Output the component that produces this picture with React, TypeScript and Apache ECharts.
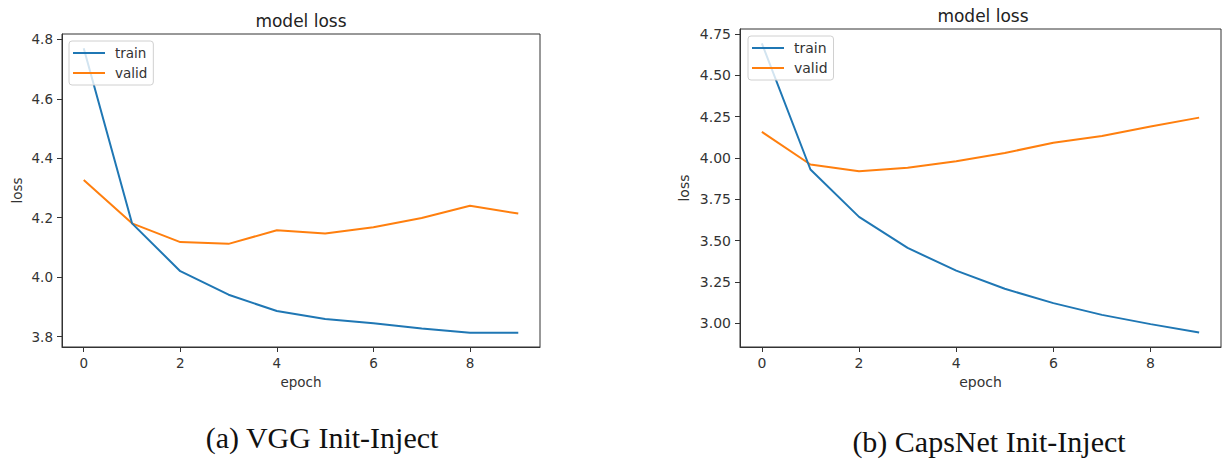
import React, { useEffect, useRef } from "react";
import * as echarts from "echarts";

const epochs = [0, 1, 2, 3, 4, 5, 6, 7, 8, 9];
const vggTrain = [4.77, 4.181, 4.02, 3.941, 3.886, 3.859, 3.845, 3.827, 3.813, 3.813];
const vggValid = [4.327, 4.181, 4.118, 4.112, 4.158, 4.147, 4.168, 4.199, 4.24, 4.214];
const capsTrain = [4.693, 3.93, 3.643, 3.455, 3.318, 3.208, 3.121, 3.05, 2.994, 2.943];
const capsValid = [4.158, 3.96, 3.92, 3.94, 3.98, 4.03, 4.092, 4.133, 4.19, 4.244];
const xTicks = [0, 2, 4, 6, 8];
const vggYTicks = [3.8, 4.0, 4.2, 4.4, 4.6, 4.8];
const capsYTicks = [3.0, 3.25, 3.5, 3.75, 4.0, 4.25, 4.5, 4.75];
const seriesNames = ["train", "valid"];
const titleText = "model loss";
const xName = "epoch";
const yName = "loss";
const captionA = "(a) VGG Init-Inject";
const captionB = "(b) CapsNet Init-Inject";

const BLUE = "#1f77b4";
const ORANGE = "#ff7f0e";
const INK = "#333333";
const FONT = "DejaVu Sans";

function limits(arrs: number[][]) {
  const all = arrs.flat();
  const mn = Math.min(...all);
  const mx = Math.max(...all);
  const m = (mx - mn) * 0.05;
  return [mn - m, mx + m];
}

function pairs(vals: number[]) {
  return vals.map((v, i) => [epochs[i], v]);
}

export default function App() {
  const ref = useRef<HTMLDivElement>(null);
  useEffect(() => {
    if (!ref.current) return;
    const chart = echarts.init(ref.current, null, { renderer: "svg" });
    const [aMin, aMax] = limits([vggTrain, vggValid]);
    const [bMin, bMax] = limits([capsTrain, capsValid]);
    const span = epochs[epochs.length - 1] - epochs[0];
    const xmin = epochs[0] - span * 0.05;
    const xmax = epochs[epochs.length - 1] + span * 0.05;

    const xAxisBase = (gridIndex: number, fs: number) => ({
      type: "value",
      gridIndex,
      min: xmin,
      max: xmax,
      name: xName,
      nameLocation: "middle",
      nameGap: 28,
      nameTextStyle: { fontFamily: FONT, fontSize: fs, color: INK },
      axisLine: { show: true, onZero: false, lineStyle: { color: INK, width: 1 } },
      axisTick: { show: true, inside: false, length: 5, customValues: xTicks, lineStyle: { color: INK } },
      axisLabel: { show: true, margin: 9, customValues: xTicks, fontFamily: FONT, fontSize: fs, color: INK },
      splitLine: { show: false },
    });

    const yAxisBase = (gridIndex: number, mn: number, mx: number, ticks: number[], dec: number, fs: number, gap: number) => ({
      type: "value",
      gridIndex,
      min: mn,
      max: mx,
      name: yName,
      nameLocation: "middle",
      nameRotate: 90,
      nameGap: gap,
      nameTextStyle: { fontFamily: FONT, fontSize: fs, color: INK },
      axisLine: { show: true, onZero: false, lineStyle: { color: INK, width: 1 } },
      axisTick: { show: true, inside: false, length: 5, customValues: ticks, lineStyle: { color: INK } },
      axisLabel: {
        show: true,
        margin: 9,
        customValues: ticks,
        fontFamily: FONT,
        fontSize: fs,
        color: INK,
        formatter: (v: number) => v.toFixed(dec),
      },
      splitLine: { show: false },
    });

    const line = (name: string, data: number[], color: string, idx: number) => ({
      type: "line",
      name,
      xAxisIndex: idx,
      yAxisIndex: idx,
      data: pairs(data),
      symbol: "none",
      lineStyle: { color, width: 2 },
      itemStyle: { color },
      z: name === "train" ? 3 : 2,
    });

    const legendBase = (left: number, top: number, fs: number) => ({
      left,
      top,
      orient: "vertical",
      data: seriesNames.map((n) => ({ name: n, icon: "rect" })),
      itemWidth: 32,
      itemHeight: 2,
      itemGap: 6,
      padding: [5, 6, 5, 4],
      borderColor: "#d0d0d0",
      borderWidth: 1,
      borderRadius: 3,
      backgroundColor: "rgba(255,255,255,0.8)",
      selectedMode: false,
      textStyle: { fontFamily: FONT, fontSize: fs, color: INK, padding: [0, 0, 0, 5] },
    });

    chart.setOption({
      animation: false,
      backgroundColor: "#ffffff",
      grid: [
        { left: 62, top: 34, width: 478, height: 313, show: true, borderColor: INK, borderWidth: 1, containLabel: false },
        { left: 740, top: 29, width: 481, height: 318, show: true, borderColor: INK, borderWidth: 1, containLabel: false },
      ],
      xAxis: [xAxisBase(0, 13.5), xAxisBase(1, 14)],
      yAxis: [
        yAxisBase(0, aMin, aMax, vggYTicks, 1, 13.5, 38),
        yAxisBase(1, bMin, bMax, capsYTicks, 2, 14, 49),
      ],
      legend: [legendBase(69, 41, 13.5), legendBase(748, 36, 14)],
      series: [
        line("train", vggTrain, BLUE, 0),
        line("valid", vggValid, ORANGE, 0),
        line("train", capsTrain, BLUE, 1),
        line("valid", capsValid, ORANGE, 1),
      ],
      graphic: [
        {
          type: "text",
          x: 301,
          y: 21,
          style: { text: titleText, textAlign: "center", textVerticalAlign: "middle", font: `17px "${FONT}"`, fill: "#222" },
        },
        {
          type: "text",
          x: 983,
          y: 16,
          style: { text: titleText, textAlign: "center", textVerticalAlign: "middle", font: `17px "${FONT}"`, fill: "#222" },
        },
        {
          type: "text",
          x: 322,
          y: 437,
          style: { text: captionA, textAlign: "center", textVerticalAlign: "middle", font: `30px "Liberation Serif"`, fill: "#111" },
        },
        {
          type: "text",
          x: 989,
          y: 441,
          style: { text: captionB, textAlign: "center", textVerticalAlign: "middle", font: `30px "Liberation Serif"`, fill: "#111" },
        },
      ],
    });
    return () => chart.dispose();
  }, []);
  return (
    <div
      ref={ref}
      style={{ position: "fixed", left: 0, top: 0, width: 1228, height: 460, background: "#fff" }}
    />
  );
}
